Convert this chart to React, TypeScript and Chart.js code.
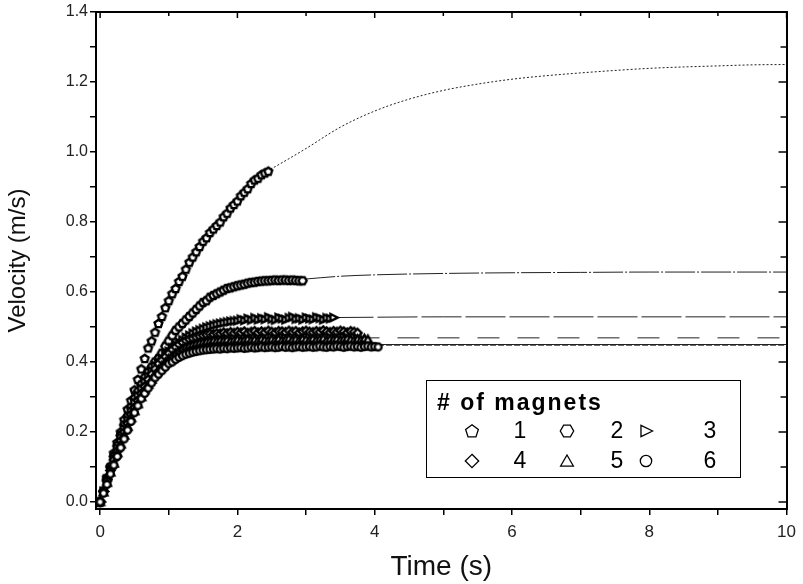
import React, { useEffect, useRef } from "react";
import { Chart, registerables } from "chart.js";

Chart.register(...registerables);

// ---------- data ----------
const TIME = [
  0, 0.05, 0.1, 0.15, 0.2, 0.25, 0.3, 0.35, 0.4, 0.45,
  0.5, 0.55, 0.6, 0.65, 0.7, 0.75, 0.8, 0.85, 0.9, 0.95,
  1, 1.05, 1.1, 1.15, 1.2, 1.25, 1.3, 1.35, 1.4, 1.45,
  1.5, 1.55, 1.6, 1.65, 1.7, 1.75, 1.8, 1.85, 1.9, 1.95,
  2, 2.05, 2.1, 2.15, 2.2, 2.25, 2.3, 2.35, 2.4, 2.45,
  2.5, 2.55, 2.6, 2.65, 2.7, 2.75, 2.8, 2.85, 2.9, 2.95,
  3, 3.05, 3.1, 3.15, 3.2, 3.25, 3.3, 3.35, 3.4, 3.45,
  3.5, 3.55, 3.6, 3.65, 3.7, 3.75, 3.8, 3.85, 3.9, 3.95,
  4, 4.05,
];

const VELOCITY_1 = [
  0.0, 0.03, 0.07, 0.1, 0.14, 0.17, 0.2, 0.235, 0.265, 0.29,
  0.32, 0.35, 0.38, 0.41, 0.44, 0.46, 0.485, 0.51, 0.53, 0.555,
  0.575, 0.595, 0.61, 0.63, 0.645, 0.665, 0.685, 0.7, 0.715, 0.73,
  0.745, 0.755, 0.77, 0.78, 0.79, 0.8, 0.815, 0.825, 0.84, 0.85,
  0.86, 0.875, 0.885, 0.895, 0.91, 0.92, 0.925, 0.935, 0.94, 0.945,
];

const VELOCITY_2 = [
  0.0, 0.03, 0.065, 0.1, 0.13, 0.16, 0.19, 0.22, 0.245, 0.27,
  0.295, 0.315, 0.335, 0.355, 0.37, 0.385, 0.4, 0.41, 0.425, 0.445,
  0.46, 0.475, 0.49, 0.5, 0.51, 0.52, 0.53, 0.54, 0.55, 0.56,
  0.57, 0.575, 0.585, 0.59, 0.595, 0.6, 0.605, 0.61, 0.612, 0.615,
  0.618, 0.62, 0.622, 0.625, 0.627, 0.628, 0.63, 0.631, 0.632, 0.632,
  0.633, 0.634, 0.633, 0.634, 0.634, 0.633, 0.634, 0.633, 0.632, 0.632,
];

const VELOCITY_3 = [
  0.0, 0.03, 0.065, 0.095, 0.125, 0.155, 0.185, 0.21, 0.235, 0.26,
  0.285, 0.305, 0.325, 0.345, 0.36, 0.375, 0.39, 0.4, 0.41, 0.42,
  0.43, 0.44, 0.448, 0.456, 0.463, 0.47, 0.476, 0.482, 0.487, 0.491,
  0.495, 0.499, 0.502, 0.505, 0.508, 0.51, 0.512, 0.514, 0.516, 0.517,
  0.518, 0.522, 0.519, 0.524, 0.52, 0.526, 0.521, 0.525, 0.522, 0.528,
  0.523, 0.52, 0.527, 0.524, 0.521, 0.526, 0.529, 0.523, 0.525, 0.521,
  0.527, 0.524, 0.522, 0.528, 0.525, 0.521, 0.526, 0.524, 0.527,
];

const VELOCITY_4 = [
  0.0, 0.03, 0.06, 0.09, 0.12, 0.145, 0.175, 0.2, 0.225, 0.25,
  0.27, 0.29, 0.31, 0.33, 0.35, 0.365, 0.38, 0.395, 0.405, 0.415,
  0.425, 0.435, 0.443, 0.45, 0.456, 0.461, 0.465, 0.468, 0.471, 0.474,
  0.476, 0.478, 0.48, 0.479, 0.482, 0.481, 0.484, 0.482, 0.485, 0.483,
  0.486, 0.484, 0.487, 0.483, 0.486, 0.488, 0.484, 0.487, 0.485, 0.489,
  0.486, 0.484, 0.488, 0.487, 0.485, 0.489, 0.486, 0.488, 0.484, 0.487,
  0.489, 0.486, 0.485, 0.488, 0.486, 0.49, 0.487, 0.485, 0.488, 0.486,
  0.489, 0.487, 0.484, 0.488, 0.486, 0.483,
];

const VELOCITY_5 = [
  0.0, 0.028, 0.055, 0.085, 0.11, 0.14, 0.165, 0.19, 0.215, 0.24,
  0.26, 0.28, 0.3, 0.32, 0.335, 0.35, 0.365, 0.378, 0.39, 0.4,
  0.41, 0.418, 0.425, 0.432, 0.438, 0.443, 0.447, 0.45, 0.453, 0.455,
  0.457, 0.459, 0.46, 0.462, 0.461, 0.463, 0.462, 0.464, 0.461, 0.463,
  0.465, 0.462, 0.464, 0.466, 0.463, 0.465, 0.462, 0.466, 0.464, 0.463,
  0.466, 0.464, 0.467, 0.463, 0.465, 0.468, 0.464, 0.466, 0.463, 0.467,
  0.465, 0.463, 0.467, 0.464, 0.466, 0.468, 0.463, 0.466, 0.465, 0.467,
  0.464, 0.466, 0.468, 0.465, 0.463, 0.466, 0.464, 0.467, 0.465,
];

const VELOCITY_6 = [
  0.0, 0.025, 0.05, 0.08, 0.105, 0.13, 0.155, 0.18, 0.205, 0.23,
  0.255, 0.275, 0.295, 0.31, 0.325, 0.34, 0.355, 0.365, 0.375, 0.385,
  0.395, 0.4, 0.407, 0.413, 0.418, 0.422, 0.425, 0.428, 0.43, 0.432,
  0.434, 0.435, 0.436, 0.437, 0.438, 0.437, 0.439, 0.438, 0.44, 0.439,
  0.44, 0.441, 0.439, 0.44, 0.442, 0.44, 0.441, 0.443, 0.441, 0.442,
  0.443, 0.441, 0.442, 0.444, 0.442, 0.443, 0.441, 0.443, 0.444, 0.442,
  0.443, 0.444, 0.442, 0.443, 0.445, 0.443, 0.442, 0.444, 0.443, 0.445,
  0.444, 0.442, 0.444, 0.445, 0.443, 0.444, 0.442, 0.444, 0.445, 0.443,
  0.444, 0.443,
];

// fitted curves (extension to t = 10 s)
const FIT_1_TIME = [2.43, 2.62, 3.0, 3.5, 4.0, 4.5, 5.0, 5.5, 6.0, 6.5, 7.0, 7.5, 8.0, 8.5, 9.0, 9.5, 10.0];
const FIT_1_VELOCITY = [0.945, 0.966, 1.01, 1.071, 1.117, 1.151, 1.176, 1.194, 1.208, 1.218, 1.226, 1.233, 1.239, 1.243, 1.246, 1.249, 1.25];
const FIT_2_TIME = [2.93, 3.5, 4.0, 5.0, 6.0, 7.0, 8.0, 10.0];
const FIT_2_VELOCITY = [0.636, 0.645, 0.649, 0.653, 0.655, 0.656, 0.657, 0.657];
const FIT_3_TIME = [3.4, 5.0, 10.0];
const FIT_3_VELOCITY = [0.527, 0.529, 0.529];
const FIT_4_TIME = [3.75, 10.0];
const FIT_4_VELOCITY = [0.469, 0.469];
const FIT_5_TIME = [3.9, 10.0];
const FIT_5_VELOCITY = [0.45, 0.45];
const FIT_6_TIME = [4.05, 10.0];
const FIT_6_VELOCITY = [0.448, 0.448];

const SERIES_LABELS = ["1", "2", "3", "4", "5", "6"];
const SERIES_SHAPES = ["pentagon", "hexagon", "triangleRight", "diamond", "triangleUp", "circle"];

const X_TICKS = [0, 1, 2, 3, 4, 5, 6, 7, 8, 9, 10];
const X_LABELED = [0, 2, 4, 6, 8, 10];
const Y_TICKS = [0, 0.1, 0.2, 0.3, 0.4, 0.5, 0.6, 0.7, 0.8, 0.9, 1.0, 1.1, 1.2, 1.3, 1.4];
const Y_LABELED = [0, 0.2, 0.4, 0.6, 0.8, 1.0, 1.2, 1.4];

const X_TITLE = "Time (s)";
const Y_TITLE = "Velocity (m/s)";
const LEGEND_TITLE = "# of magnets";

const FONT = "'Liberation Sans', Arial, Helvetica, sans-serif";

// ---------- helpers ----------
function makeMarker(shape: string, size: number, lw: number): HTMLCanvasElement {
  const c = document.createElement("canvas");
  c.width = size;
  c.height = size;
  const ctx = c.getContext("2d")!;
  const cx = size / 2;
  const cy = size / 2;
  const r = size / 2 - lw;
  ctx.beginPath();
  if (shape === "pentagon") {
    for (let k = 0; k < 5; k++) {
      const a = -Math.PI / 2 + (k * 2 * Math.PI) / 5;
      const px = cx + r * Math.cos(a);
      const py = cy + 0.08 * r + r * Math.sin(a);
      k === 0 ? ctx.moveTo(px, py) : ctx.lineTo(px, py);
    }
  } else if (shape === "hexagon") {
    for (let k = 0; k < 6; k++) {
      const a = (k * Math.PI) / 3;
      const px = cx + r * Math.cos(a);
      const py = cy + r * Math.sin(a);
      k === 0 ? ctx.moveTo(px, py) : ctx.lineTo(px, py);
    }
  } else if (shape === "triangleRight") {
    ctx.moveTo(cx + r, cy);
    ctx.lineTo(cx - r * 0.75, cy - r * 0.85);
    ctx.lineTo(cx - r * 0.75, cy + r * 0.85);
  } else if (shape === "diamond") {
    ctx.moveTo(cx, cy - r);
    ctx.lineTo(cx + r, cy);
    ctx.lineTo(cx, cy + r);
    ctx.lineTo(cx - r, cy);
  } else if (shape === "triangleUp") {
    ctx.moveTo(cx, cy - r * 0.9);
    ctx.lineTo(cx + r * 0.95, cy + r * 0.75);
    ctx.lineTo(cx - r * 0.95, cy + r * 0.75);
  } else {
    ctx.arc(cx, cy, r * 0.85, 0, Math.PI * 2);
  }
  ctx.closePath();
  ctx.fillStyle = "#ffffff";
  ctx.fill();
  ctx.lineWidth = lw;
  ctx.strokeStyle = "#000000";
  ctx.stroke();
  return c;
}

export default function App() {
  const canvasRef = useRef<HTMLCanvasElement | null>(null);

  useEffect(() => {
    const canvas = canvasRef.current;
    if (!canvas) return;

    const velocitySeries = [VELOCITY_1, VELOCITY_2, VELOCITY_3, VELOCITY_4, VELOCITY_5, VELOCITY_6];
    const fitTimes = [FIT_1_TIME, FIT_2_TIME, FIT_3_TIME, FIT_4_TIME, FIT_5_TIME, FIT_6_TIME];
    const fitVelocities = [FIT_1_VELOCITY, FIT_2_VELOCITY, FIT_3_VELOCITY, FIT_4_VELOCITY, FIT_5_VELOCITY, FIT_6_VELOCITY];
    const fitDashes = [[2, 2], [2, 2, 30, 2], [40, 4], [22, 18], [], [6, 2]];

    const dataMarkers = SERIES_SHAPES.map((s) => makeMarker(s, 13, 2.4));
    const legendMarkers = SERIES_SHAPES.map((s) => makeMarker(s, 16, 1.3));

    const datasets: any[] = [];
    velocitySeries.forEach((vals, i) => {
      datasets.push({
        type: "scatter",
        label: SERIES_LABELS[i],
        data: vals.map((v, j) => ({ x: TIME[j], y: v })),
        pointStyle: dataMarkers[i],
        pointRadius: 5,
        showLine: false,
        order: 6 - i,
      });
    });
    fitTimes.forEach((ts, i) => {
      datasets.push({
        type: "line",
        label: "fit " + SERIES_LABELS[i],
        data: ts.map((t, j) => ({ x: t, y: fitVelocities[i][j] })),
        borderColor: "#222222",
        borderWidth: 1,
        borderDash: fitDashes[i],
        pointRadius: 0,
        fill: false,
        tension: 0.4,
        cubicInterpolationMode: "monotone",
        order: 20,
      });
    });

    const frameTicks = {
      id: "frameTicks",
      afterDraw(chart: any) {
        const { ctx, chartArea, scales } = chart;
        ctx.save();
        ctx.strokeStyle = "#000";
        ctx.lineWidth = 1.5;
        X_TICKS.forEach((t) => {
          const px = scales.x.getPixelForValue(t);
          const len = X_LABELED.includes(t) ? 6 : 4;
          ctx.beginPath();
          ctx.moveTo(px, chartArea.top);
          ctx.lineTo(px, chartArea.top + len);
          ctx.stroke();
        });
        Y_TICKS.forEach((v) => {
          const py = scales.y.getPixelForValue(v);
          const len = Y_LABELED.includes(v) ? 8 : 6;
          ctx.beginPath();
          ctx.moveTo(chartArea.right, py);
          ctx.lineTo(chartArea.right - len, py);
          ctx.stroke();
        });
        ctx.restore();
      },
    };

    const legendBox = {
      id: "legendBox",
      afterDraw(chart: any) {
        const ctx = chart.ctx;
        const bx = 426, by = 380, bw = 314, bh = 97;
        ctx.save();
        ctx.fillStyle = "#fff";
        ctx.fillRect(bx, by, bw, bh);
        ctx.strokeStyle = "#000";
        ctx.lineWidth = 1;
        ctx.strokeRect(bx + 0.5, by + 0.5, bw, bh);
        ctx.fillStyle = "#000";
        ctx.textBaseline = "middle";
        ctx.textAlign = "left";
        ctx.font = "bold 23px " + FONT;
        try {
          (ctx as any).letterSpacing = "2px";
        } catch (e) {}
        ctx.fillText(LEGEND_TITLE, 437, 404);
        try {
          (ctx as any).letterSpacing = "0px";
        } catch (e) {}
        const markerX = [472, 567, 646];
        const textX = [520, 617, 710];
        const rowY = [431, 461];
        ctx.font = "23px " + FONT;
        ctx.textAlign = "center";
        SERIES_LABELS.forEach((lab, i) => {
          const row = Math.floor(i / 3);
          const col = i % 3;
          const m = legendMarkers[i];
          ctx.drawImage(m, markerX[col] - m.width / 2, rowY[row] - m.height / 2);
          ctx.fillText(lab, textX[col], rowY[row] + 1);
        });
        ctx.restore();
      },
    };

    const chart = new Chart(canvas, {
      type: "scatter",
      data: { datasets },
      options: {
        animation: false,
        responsive: false,
        devicePixelRatio: 1,
        layout: { padding: 0 },
        plugins: {
          legend: { display: false },
          tooltip: { enabled: false },
        },
        scales: {
          x: {
            type: "linear",
            position: "bottom",
            min: -0.06,
            max: 10,
            afterBuildTicks: (s: any) => {
              s.ticks = X_TICKS.map((v) => ({ value: v }));
            },
            afterFit: (s: any) => {
              s.height = 75;
            },
            ticks: {
              autoSkip: false,
              maxRotation: 0,
              padding: 7,
              color: "#222",
              font: { size: 17, family: FONT },
              callback: (v: any) => (X_LABELED.includes(v) ? String(v) : ""),
            },
            grid: { drawOnChartArea: false, drawTicks: true, tickLength: 6, color: "#000", lineWidth: 1.5 },
            border: { display: true, color: "#000", width: 2 },
            title: { display: true, text: X_TITLE, color: "#111", font: { size: 28, family: FONT, lineHeight: 1.2 }, padding: { top: 0, bottom: 0 } },
          },
          y: {
            type: "linear",
            position: "left",
            min: -0.02,
            max: 1.4,
            afterBuildTicks: (s: any) => {
              s.ticks = Y_TICKS.map((v) => ({ value: v }));
            },
            afterFit: (s: any) => {
              s.width = 96;
            },
            ticks: {
              autoSkip: false,
              padding: 2,
              color: "#222",
              font: { size: 16, family: FONT },
              callback: (v: any) => (Y_LABELED.includes(v) ? Number(v).toFixed(1) : ""),
            },
            grid: { drawOnChartArea: false, drawTicks: true, tickLength: 6, color: "#000", lineWidth: 1.5 },
            border: { display: true, color: "#000", width: 2 },
            title: { display: true, text: Y_TITLE, color: "#111", font: { size: 24, family: FONT }, padding: { top: 4, bottom: 4 } },
          },
          x2: {
            type: "linear",
            position: "top",
            min: -0.06,
            max: 10,
            ticks: { display: false },
            grid: { display: false, drawTicks: false },
            border: { display: true, color: "#000", width: 2 },
            afterFit: (s: any) => {
              s.height = 12;
            },
          },
          y2: {
            type: "linear",
            position: "right",
            min: -0.02,
            max: 1.4,
            ticks: { display: false },
            grid: { display: false, drawTicks: false },
            border: { display: true, color: "#000", width: 2 },
            afterFit: (s: any) => {
              s.width = 10;
            },
          },
        },
      } as any,
      plugins: [frameTicks, legendBox],
    });

    return () => chart.destroy();
  }, []);

  return (
    <div style={{ position: "absolute", left: 0, top: 0, width: 803, height: 584, background: "#fff" }}>
      <canvas ref={canvasRef} width={803} height={584} />
    </div>
  );
}
